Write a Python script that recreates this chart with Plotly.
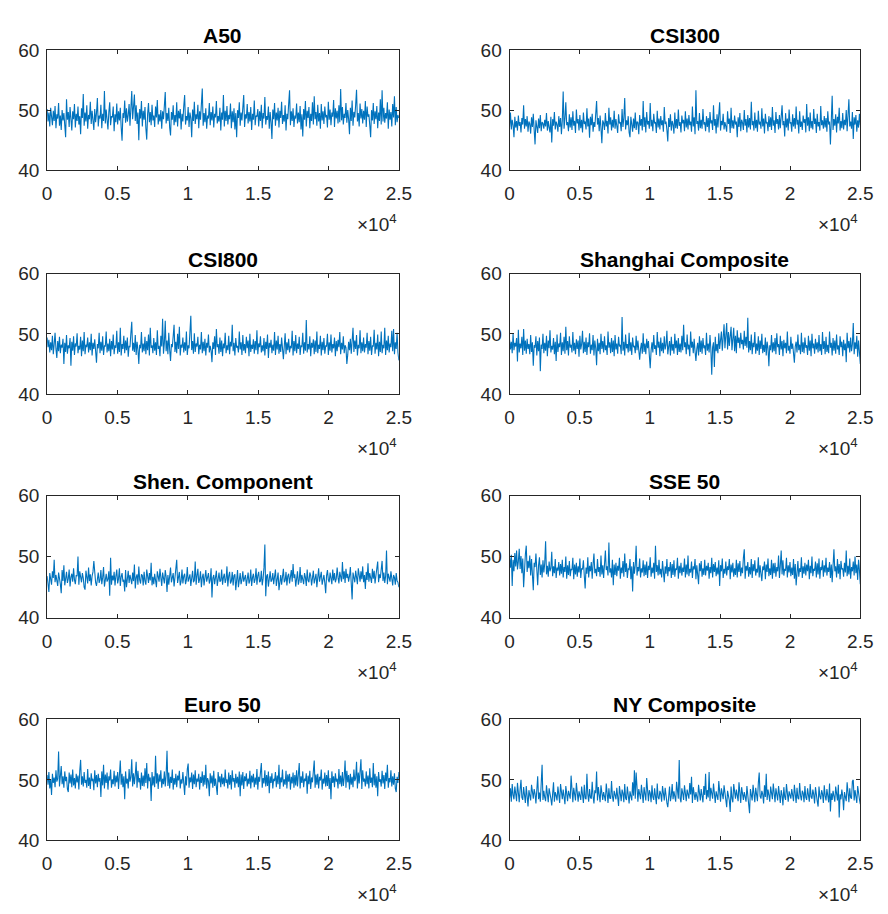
import numpy as np
import plotly.graph_objects as go

titles = ["A50", "CSI300", "CSI800", "Shanghai Composite",
          "Shen. Component", "SSE 50", "Euro 50", "NY Composite"]

a50 = [50.2, 48.1, 49.6, 47.3, 50.4, 48.8, 47.5, 49.9, 48.2, 50.7, 47.0, 49.3, 48.6, 51.2, 47.4, 49.1, 46.7, 50.0, 48.3, 49.5,
       47.8, 45.5, 51.8, 48.4, 49.7, 47.2, 50.5, 48.0, 46.6, 49.8, 48.5, 51.0, 47.1, 49.4, 48.2, 50.6, 47.6, 49.0, 46.0, 50.3,
       48.7, 52.7, 47.4, 49.6, 48.1, 50.8, 46.9, 49.2, 48.5, 51.4, 47.7, 49.9, 48.3, 46.7, 50.2, 48.0, 49.5, 52.0, 47.3, 49.1,
       48.6, 50.9, 47.0, 49.4, 48.2, 53.2, 47.8, 50.1, 48.4, 46.8, 49.7, 51.3, 47.5, 49.0, 48.8, 50.6, 46.5, 49.3, 48.0, 51.1,
       47.6, 49.8, 48.3, 50.4, 47.1, 44.9, 49.5, 48.7, 51.6, 47.9, 50.3, 48.1, 49.2, 51.0, 47.4, 50.7, 53.2, 48.5, 50.0, 52.6,
       48.2, 50.8, 47.7, 49.6, 45.0, 50.2, 48.6, 51.5, 47.3, 49.9, 48.4, 50.5, 47.0, 45.1, 49.4, 51.2, 48.0, 49.7, 47.5, 50.9,
       48.3, 49.1, 47.2, 50.6, 48.8, 51.7, 47.6, 49.3, 48.1, 50.0, 46.9, 49.8, 48.5, 51.1, 53.0, 47.8, 49.5, 48.2, 50.4, 47.1,
       45.8, 49.7, 48.4, 50.8, 47.5, 49.2, 48.0, 51.3, 47.3, 49.9, 48.6, 50.2, 46.8, 49.4, 48.1, 50.7, 52.5, 47.6, 49.0, 48.3,
       50.5, 47.2, 49.6, 48.7, 45.5, 50.1, 48.2, 51.4, 47.7, 49.3, 48.5, 50.9, 47.0, 49.8, 48.4, 51.0, 53.6, 47.4, 49.5, 48.0,
       50.3, 46.9, 49.1, 48.6, 51.2, 47.5, 49.7, 48.3, 50.6, 47.1, 49.4, 48.8, 51.5, 47.8, 49.0, 48.1, 50.4, 46.6, 49.6, 48.4,
       52.5, 47.3, 49.9, 48.2, 50.7, 47.6, 49.2, 48.5, 51.1, 47.0, 49.8, 48.0, 50.3, 46.8, 49.5, 45.5, 50.0, 48.7, 51.3, 47.4,
       49.6, 48.3, 50.8, 52.5, 47.2, 49.3, 48.6, 51.0, 47.8, 49.7, 48.1, 50.5, 46.7, 49.4, 48.4, 51.6, 47.5, 49.1, 48.9, 50.2,
       47.3, 49.8, 48.2, 50.9, 47.0, 49.5, 48.6, 52.2, 47.6, 49.0, 48.4, 50.6, 46.9, 49.7, 48.0, 45.2, 50.1, 48.5, 51.2, 47.4,
       49.6, 48.3, 50.4, 47.1, 49.9, 48.7, 51.4, 47.7, 49.2, 48.1, 50.8, 46.6, 49.4, 48.5, 51.0, 53.3, 47.5, 49.8, 48.2, 50.3,
       47.2, 49.1, 48.6, 51.1, 47.8, 49.6, 48.0, 50.7, 46.8, 49.3, 45.6, 50.2, 48.4, 51.5, 47.3, 49.9, 48.7, 50.5, 47.0, 49.4,
       48.2, 51.3, 47.6, 52.3, 48.5, 49.7, 47.4, 50.9, 48.1, 49.5, 46.9, 51.0, 48.3, 49.8, 47.7, 50.6, 48.8, 49.2, 47.1, 51.4,
       48.4, 50.1, 47.5, 49.6, 48.9, 51.7, 47.2, 50.3, 48.6, 49.9, 47.8, 50.8, 48.0, 53.5, 48.3, 50.5, 47.6, 49.4, 48.7, 51.2,
       47.9, 50.0, 48.5, 46.0, 50.4, 48.2, 51.6, 47.4, 49.7, 48.8, 50.9, 53.4, 48.1, 49.5, 47.3, 51.1, 48.6, 50.2, 47.8, 49.9,
       48.4, 51.5, 47.2, 50.6, 48.9, 49.3, 47.5, 45.5, 50.0, 48.3, 51.2, 47.7, 49.8, 48.5, 50.7, 47.0, 49.6, 48.2, 51.8, 47.6,
       53.3, 48.1, 50.4, 47.9, 49.5, 48.6, 51.3, 46.9, 50.1, 48.4, 49.7, 47.3, 51.0, 48.8, 52.3, 47.5, 50.5, 48.0, 49.2, 48.7]

csi300 = [47.2, 49.6, 46.8, 48.4, 47.5, 45.5, 48.9, 47.1, 48.2, 46.6, 49.1, 47.4, 48.0, 46.3, 48.7, 47.6, 50.8, 46.9, 48.5, 47.3,
          49.0, 46.4, 48.1, 47.7, 46.1, 48.8, 47.2, 49.4, 46.7, 44.3, 48.3, 47.5, 46.2, 48.6, 47.0, 49.2, 46.5, 48.0, 47.8, 46.9,
          48.4, 47.3, 49.5, 46.6, 48.2, 47.1, 46.3, 48.9, 44.6, 48.5, 47.4, 49.7, 46.8, 48.1, 47.6, 46.4, 49.0, 47.2, 48.7, 46.0,
          48.3, 53.1, 46.9, 48.6, 51.3, 47.5, 48.0, 46.5, 49.3, 47.1, 48.8, 46.7, 49.8, 47.4, 48.2, 46.2, 50.1, 47.8, 48.5, 46.6,
          49.2, 47.0, 48.4, 46.3, 49.6, 47.7, 48.1, 46.8, 50.3, 47.3, 48.6, 45.4, 48.9, 47.5, 49.4, 46.4, 48.0, 47.2, 50.0, 51.5,
          47.6, 48.7, 46.5, 49.1, 47.0, 44.5, 48.3, 47.9, 46.7, 49.5, 47.3, 48.2, 46.1, 50.4, 47.6, 48.8, 46.6, 48.4, 47.1, 49.9,
          46.9, 48.5, 47.4, 46.2, 49.3, 47.8, 48.0, 46.5, 50.2, 47.2, 48.7, 52.0, 46.8, 48.3, 47.5, 49.0, 46.3, 45.5, 48.9, 47.7,
          46.4, 48.6, 47.0, 49.6, 46.7, 48.1, 47.9, 46.0, 49.2, 47.4, 48.5, 46.6, 51.5, 47.2, 48.8, 46.3, 49.7, 47.6, 48.2, 46.9,
          51.2, 47.3, 48.4, 46.5, 49.4, 47.8, 48.0, 46.2, 49.9, 47.1, 48.6, 46.8, 49.0, 47.5, 48.3, 46.4, 50.5, 47.7, 48.1, 46.7,
          44.8, 48.7, 47.2, 49.3, 46.6, 48.2, 47.6, 46.1, 49.6, 47.0, 48.5, 46.9, 50.1, 47.4, 48.0, 46.3, 49.1, 47.8, 48.4, 46.5,
          49.8, 47.1, 48.6, 46.8, 49.2, 47.5, 48.1, 46.4, 50.6, 47.3, 48.8, 46.0, 53.3, 47.7, 48.2, 46.6, 49.5, 47.0, 48.4, 46.9,
          50.2, 47.6, 48.0, 46.5, 49.0, 47.2, 48.7, 46.3, 49.7, 47.8, 48.3, 46.7, 50.8, 47.4, 48.5, 46.1, 49.3, 47.1, 48.9, 51.3,
          46.6, 48.2, 47.5, 49.4, 46.8, 48.0, 47.3, 46.4, 49.8, 47.7, 48.6, 46.2, 50.4, 47.0, 48.3, 46.9, 49.1, 47.6, 48.1, 45.5,
          48.8, 47.2, 49.5, 46.5, 48.4, 47.9, 46.7, 50.0, 47.4, 48.5, 46.3, 49.2, 47.1, 48.7, 46.8, 51.4, 47.5, 48.2, 46.6, 49.6,
          47.0, 48.4, 46.4, 49.9, 47.6, 48.1, 46.9, 50.3, 47.3, 48.6, 46.1, 49.4, 47.8, 48.0, 46.5, 49.0, 47.2, 48.8, 46.7, 50.5,
          47.4, 48.3, 46.2, 49.7, 47.7, 48.5, 46.8, 49.2, 47.0, 48.9, 50.8, 47.5, 48.2, 45.6, 49.5, 47.1, 48.6, 46.6, 50.1, 47.8,
          48.0, 46.4, 49.3, 47.3, 48.7, 46.9, 50.6, 47.6, 48.4, 46.1, 49.8, 47.2, 48.1, 46.7, 49.1, 47.9, 48.5, 46.3, 51.0, 47.4,
          48.8, 46.5, 49.6, 47.0, 48.2, 46.8, 50.2, 47.7, 48.6, 46.2, 49.4, 47.3, 48.0, 46.6, 50.7, 47.5, 48.3, 46.9, 49.0, 47.1,
          48.7, 46.4, 49.8, 47.6, 48.1, 44.3, 47.2, 52.4, 46.7, 48.5, 47.4, 49.3, 46.3, 48.9, 47.8, 50.4, 46.6, 48.2, 47.0, 49.5,
          46.8, 48.4, 47.5, 50.0, 46.5, 48.6, 51.8, 47.3, 48.1, 46.9, 49.7, 45.2, 48.8, 47.6, 49.2, 46.4, 48.3, 47.1, 49.4, 47.5]

csi800 = [49.4, 47.8, 49.0, 46.9, 48.6, 47.3, 49.7, 46.6, 48.3, 50.2, 47.5, 46.0, 48.8, 47.1, 49.5, 46.8, 48.2, 47.7, 49.2, 45.0,
          48.5, 47.0, 49.8, 46.7, 48.1, 47.6, 49.3, 44.7, 48.7, 47.2, 49.6, 46.5, 48.4, 47.9, 50.1, 46.8, 48.0, 47.4, 49.5, 46.3,
          48.9, 47.1, 50.3, 46.6, 48.2, 47.8, 49.4, 46.9, 48.6, 47.3, 50.0, 46.4, 48.5, 47.5, 49.1, 46.7, 45.2, 48.3, 47.6, 50.2,
          46.8, 48.7, 47.2, 49.6, 46.5, 48.0, 47.9, 50.4, 46.9, 48.4, 47.1, 49.2, 46.3, 48.8, 47.4, 49.9, 46.6, 48.1, 47.7, 50.5,
          46.7, 48.6, 47.0, 51.0, 46.4, 48.3, 47.5, 49.7, 46.8, 48.9, 47.3, 49.4, 46.2, 48.0, 47.8, 50.1, 52.0, 47.2, 48.5, 47.0,
          49.8, 46.5, 48.7, 47.4, 45.0, 48.2, 47.6, 50.3, 46.9, 48.4, 47.1, 49.5, 46.6, 48.8, 47.3, 49.9, 46.4, 51.0, 47.7, 48.1,
          46.8, 49.3, 47.2, 48.6, 46.5, 50.6, 47.5, 48.0, 46.3, 49.7, 47.9, 52.5, 46.7, 48.5, 52.2, 47.1, 48.9, 46.6, 50.2, 47.4,
          45.5, 48.3, 47.8, 49.6, 51.5, 47.0, 48.7, 46.8, 50.0, 47.5, 51.2, 46.4, 48.2, 47.7, 49.4, 46.9, 48.6, 47.2, 50.4, 46.5,
          48.1, 47.6, 49.8, 53.0, 47.3, 48.8, 46.7, 50.1, 47.0, 48.4, 47.9, 49.5, 46.6, 48.2, 47.4, 50.3, 46.8, 48.7, 47.1, 49.2,
          46.4, 48.5, 47.7, 49.9, 46.9, 48.0, 47.2, 45.3, 48.6, 47.5, 49.6, 46.5, 50.8, 47.8, 48.3, 46.7, 49.4, 47.0, 48.9, 46.3,
          48.4, 47.6, 50.2, 46.8, 48.1, 47.3, 49.7, 46.6, 48.7, 47.9, 51.5, 47.1, 48.5, 46.4, 49.3, 47.7, 48.0, 46.9, 50.4, 47.4,
          48.6, 46.5, 49.8, 47.2, 48.3, 46.8, 49.5, 47.6, 48.9, 46.3, 50.0, 47.0, 48.2, 47.5, 49.1, 46.7, 48.8, 47.3, 50.6, 46.6,
          48.4, 47.8, 49.6, 46.9, 48.1, 47.1, 49.3, 46.4, 48.7, 47.5, 49.9, 46.0, 48.5, 47.7, 49.0, 46.8, 48.2, 47.2, 50.3, 46.5,
          48.9, 47.4, 49.7, 46.7, 48.3, 47.0, 49.4, 46.3, 45.8, 47.9, 50.1, 46.6, 48.6, 47.3, 49.2, 46.9, 48.0, 47.6, 50.5, 46.4,
          48.8, 47.1, 49.8, 46.8, 48.4, 47.5, 49.5, 46.5, 48.1, 47.8, 50.2, 46.7, 48.6, 47.2, 52.3, 46.9, 48.3, 47.4, 49.6, 46.3,
          48.5, 47.7, 49.1, 46.6, 48.9, 47.0, 50.4, 46.8, 48.2, 47.5, 49.7, 46.4, 48.7, 47.3, 49.3, 46.7, 48.0, 47.9, 50.0, 46.5,
          48.6, 47.2, 49.9, 46.9, 48.3, 47.6, 49.4, 46.3, 48.8, 47.1, 49.0, 47.8, 50.3, 46.6, 48.5, 47.4, 49.6, 46.8, 48.1, 47.7,
          45.0, 46.5, 48.7, 47.3, 49.2, 46.7, 48.4, 51.0, 47.0, 48.9, 47.5, 49.8, 46.4, 48.2, 47.6, 50.6, 46.8, 48.6, 47.1, 49.4,
          46.9, 48.3, 47.7, 50.2, 46.6, 48.8, 47.2, 49.5, 46.5, 48.0, 47.9, 50.7, 46.7, 48.5, 47.4, 49.9, 46.3, 48.7, 47.0, 50.4,
          46.8, 48.2, 47.6, 51.0, 46.5, 48.9, 47.3, 49.7, 46.9, 48.4, 47.8, 50.5, 47.1, 50.8, 46.6, 48.6, 47.5, 50.2, 46.9, 45.6]

shanghai = [49.0, 47.4, 48.7, 46.8, 50.1, 47.3, 48.5, 47.9, 49.3, 45.4, 50.7, 46.9, 48.4, 47.6, 49.5, 46.5, 50.8, 47.2, 48.9, 46.7,
            49.2, 47.5, 48.3, 46.6, 49.8, 47.0, 48.6, 44.7, 48.1, 47.7, 49.6, 46.4, 48.8, 47.1, 49.4, 43.8, 48.2, 47.5, 50.0, 46.8,
            48.5, 47.2, 49.7, 46.3, 48.9, 47.6, 50.6, 46.9, 48.0, 47.4, 49.3, 46.6, 48.7, 45.5, 49.9, 47.0, 48.4, 47.8, 50.2, 46.5,
            48.6, 47.1, 49.5, 46.7, 51.2, 47.3, 48.8, 46.4, 49.6, 47.7, 48.2, 46.9, 50.3, 47.2, 48.5, 46.6, 49.1, 47.5, 48.9, 46.2,
            49.7, 47.4, 48.3, 50.5, 46.8, 48.7, 47.0, 49.4, 46.5, 48.6, 47.8, 50.1, 46.7, 48.2, 47.3, 49.8, 46.4, 48.9, 47.6, 44.8,
            49.2, 47.1, 48.5, 46.6, 50.0, 47.5, 48.8, 46.9, 49.6, 47.3, 48.1, 46.5, 50.4, 47.7, 48.6, 46.8, 49.3, 47.0, 48.9, 46.3,
            49.8, 47.4, 48.4, 46.7, 49.5, 47.9, 48.2, 46.6, 52.8, 47.2, 48.7, 46.4, 49.9, 47.6, 48.3, 46.9, 50.2, 47.1, 48.6, 46.5,
            49.4, 47.8, 48.0, 46.8, 49.7, 47.3, 48.9, 46.2, 45.7, 47.5, 48.5, 46.7, 50.1, 47.0, 48.4, 46.6, 49.2, 47.6, 48.8, 46.4,
            44.3, 47.2, 48.6, 46.9, 49.8, 47.5, 48.1, 46.5, 50.3, 47.7, 48.7, 46.3, 49.4, 47.1, 48.5, 46.8, 49.6, 47.4, 48.2, 50.5,
            46.6, 47.9, 48.8, 46.4, 49.5, 47.2, 48.3, 46.7, 50.0, 47.6, 48.9, 46.5, 49.3, 47.0, 48.4, 46.9, 49.7, 47.3, 51.5, 47.8,
            48.6, 46.6, 49.9, 47.4, 48.2, 46.3, 50.4, 47.7, 48.7, 46.8, 49.2, 47.1, 45.5, 47.5, 48.5, 46.4, 49.6, 47.0, 48.9, 46.7,
            49.3, 47.6, 48.1, 46.5, 50.2, 47.2, 48.4, 46.9, 49.8, 47.4, 43.2, 47.8, 48.6, 44.5, 49.5, 47.1, 48.3, 46.8, 50.1, 47.5,
            48.8, 50.4, 47.2, 49.9, 51.6, 47.6, 50.7, 51.8, 47.4, 50.3, 48.0, 49.8, 51.2, 47.3, 50.5, 51.0, 47.1, 49.7, 46.8, 50.6,
            48.5, 49.4, 47.6, 50.2, 48.3, 49.0, 47.4, 50.5, 48.0, 49.5, 47.7, 52.7, 46.9, 48.8, 47.3, 49.9, 46.6, 48.5, 47.8, 50.3,
            46.7, 48.4, 47.2, 49.6, 46.5, 48.9, 47.5, 50.0, 46.8, 48.2, 47.0, 49.4, 46.4, 48.7, 47.6, 44.6, 48.1, 47.3, 49.8, 46.9,
            48.6, 47.1, 49.3, 46.6, 50.1, 47.8, 48.3, 46.5, 49.7, 47.4, 48.8, 46.3, 49.0, 47.6, 48.5, 46.8, 50.4, 47.2, 48.0, 46.7,
            49.5, 47.5, 48.4, 46.4, 45.2, 47.9, 48.7, 46.9, 49.9, 47.3, 48.2, 46.6, 50.2, 47.0, 48.6, 46.8, 49.4, 47.7, 48.1, 46.5,
            49.7, 47.2, 48.9, 46.3, 50.0, 47.6, 48.4, 46.7, 49.2, 47.4, 48.6, 46.9, 49.8, 47.1, 48.3, 46.5, 50.3, 47.5, 48.8, 46.6,
            49.5, 47.0, 48.2, 46.8, 50.4, 47.7, 48.5, 46.4, 49.3, 47.2, 48.9, 46.7, 49.9, 47.4, 48.1, 46.5, 49.6, 47.8, 48.7, 46.3,
            49.0, 47.3, 48.4, 45.3, 50.2, 47.6, 48.8, 46.9, 49.4, 47.1, 48.3, 51.8, 46.6, 48.6, 47.5, 49.7, 46.2, 48.9, 47.0, 45.0]

shen = [46.8, 45.6, 44.2, 47.3, 46.1, 45.4, 47.6, 46.5, 49.5, 45.8, 47.0, 46.3, 45.2, 47.4, 46.7, 45.5, 44.0, 47.8, 46.0, 48.6,
        45.3, 46.9, 47.5, 45.7, 46.4, 47.9, 45.1, 46.6, 47.2, 45.9, 48.1, 46.2, 45.5, 47.0, 46.8, 50.0, 45.4, 47.6, 46.1, 45.8,
        47.3, 46.5, 45.0, 44.6, 47.7, 46.3, 45.6, 48.2, 46.0, 47.1, 45.3, 46.8, 47.5, 49.3, 46.4, 45.8, 45.2, 46.9, 47.4, 45.7,
        46.2, 47.8, 45.5, 46.6, 48.3, 45.1, 46.7, 47.2, 45.9, 46.3, 47.6, 43.6, 49.8, 45.4, 46.9, 46.1, 47.5, 45.3, 46.8, 47.9,
        45.6, 46.4, 48.1, 45.2, 46.7, 47.3, 45.9, 46.2, 44.3, 47.8, 45.0, 46.5, 47.7, 45.7, 47.0, 46.3, 45.5, 47.4, 46.0, 48.7,
        44.8, 46.6, 47.1, 45.4, 48.4, 46.2, 45.6, 47.1, 46.9, 45.3, 47.5, 46.0, 45.4, 47.9, 46.4, 45.7, 47.3, 46.1, 49.0, 45.3,
        46.7, 45.5, 47.2, 46.3, 45.0, 47.6, 46.8, 45.9, 48.0, 46.5, 45.2, 47.4, 46.1, 45.6, 47.8, 46.7, 44.2, 47.0, 45.4, 46.4,
        48.2, 45.8, 46.9, 47.3, 45.1, 46.3, 47.7, 49.5, 45.7, 46.6, 47.5, 45.3, 46.0, 47.9, 45.6, 46.8, 47.2, 45.5, 46.2, 48.3,
        45.9, 46.5, 47.1, 45.2, 46.7, 47.7, 45.8, 46.1, 49.2, 45.4, 46.9, 48.0, 45.7, 46.3, 47.6, 45.0, 46.6, 47.2, 45.3, 46.4,
        47.8, 45.9, 46.8, 47.3, 45.6, 46.2, 48.1, 43.3, 46.5, 47.0, 45.5, 46.4, 47.7, 45.2, 46.7, 47.4, 45.9, 46.1, 47.9, 45.4,
        46.6, 47.2, 45.7, 46.3, 48.4, 45.1, 46.8, 47.5, 45.6, 46.0, 47.5, 45.3, 46.9, 47.1, 44.5, 46.4, 47.8, 45.0, 46.7, 47.3,
        45.5, 46.2, 47.6, 45.9, 46.5, 47.0, 45.2, 46.8, 47.4, 45.6, 46.1, 47.9, 45.2, 46.6, 47.2, 45.7, 46.3, 48.1, 45.4, 46.9,
        47.5, 45.8, 46.0, 47.7, 45.3, 46.4, 48.2, 52.0, 43.5, 46.8, 47.1, 45.1, 46.5, 47.6, 45.9, 46.2, 47.3, 45.5, 46.7, 47.9,
        45.2, 46.9, 47.4, 44.5, 46.3, 47.0, 45.4, 46.6, 48.0, 45.8, 46.1, 47.5, 45.3, 46.8, 47.2, 45.6, 46.4, 47.8, 45.9, 48.8,
        46.5, 47.1, 45.1, 46.7, 47.6, 45.4, 46.2, 48.3, 45.7, 47.0, 46.0, 45.5, 47.3, 46.6, 45.2, 47.9, 46.1, 45.8, 47.4, 46.9,
        45.3, 46.4, 47.7, 45.6, 46.8, 47.2, 45.0, 46.3, 48.1, 45.9, 46.5, 47.5, 45.4, 46.7, 47.0, 45.7, 44.0, 46.9, 47.8, 46.2,
        45.8, 47.4, 46.6, 45.5, 47.9, 46.1, 47.3, 45.8, 46.4, 48.2, 46.6, 45.6, 47.5, 46.9, 45.9, 49.1, 46.3, 47.6, 45.7, 48.0,
        46.5, 47.2, 45.9, 46.8, 48.3, 45.6, 43.0, 47.4, 46.2, 45.8, 47.7, 46.4, 45.5, 48.1, 46.7, 45.9, 47.6, 46.3, 48.4, 45.8,
        47.0, 44.7, 47.5, 46.2, 48.9, 45.9, 47.3, 46.6, 45.7, 48.0, 46.4, 47.7, 45.6, 46.9, 48.2, 49.2, 45.8, 47.1, 46.5, 47.8,
        49.3, 46.0, 47.4, 45.7, 46.8, 51.0, 45.5, 47.2, 46.3, 45.9, 47.6, 46.1, 45.3, 47.0, 46.6, 45.4, 47.3, 46.0, 45.8, 45.0]

sse50 = [49.8, 48.2, 50.3, 45.2, 49.5, 47.6, 50.6, 48.4, 51.0, 47.9, 49.2, 51.3, 48.0, 50.1, 47.3, 49.7, 45.0, 48.8, 50.4, 51.8,
         47.5, 49.3, 48.1, 50.2, 46.9, 49.6, 47.8, 44.5, 49.0, 48.3, 50.5, 47.2, 45.3, 48.6, 49.9, 47.0, 48.7, 46.6, 49.4, 47.4,
         48.9, 52.5, 47.1, 48.5, 46.7, 49.2, 47.6, 48.1, 50.8, 46.8, 48.4, 47.3, 49.6, 46.5, 48.2, 47.7, 49.1, 46.9, 48.8, 47.2,
         49.5, 46.6, 48.3, 47.5, 50.0, 46.4, 48.6, 47.0, 49.3, 46.8, 48.0, 47.8, 49.8, 46.3, 48.7, 47.1, 49.0, 46.7, 48.4, 47.4,
         49.7, 46.5, 48.1, 47.9, 49.4, 46.9, 44.8, 48.2, 47.2, 49.9, 46.6, 48.5, 47.6, 49.1, 46.4, 48.8, 50.5, 47.3, 48.0, 46.8,
         49.6, 47.5, 48.3, 46.7, 50.2, 47.1, 48.6, 46.5, 49.2, 51.0, 47.8, 48.4, 46.9, 52.3, 47.4, 48.1, 46.6, 49.5, 45.3, 48.7,
         47.0, 49.0, 46.8, 48.5, 47.7, 49.8, 46.4, 48.2, 47.3, 49.3, 46.7, 50.5, 47.5, 48.9, 46.5, 48.0, 47.9, 49.6, 46.3, 48.4,
         44.3, 49.1, 47.2, 48.6, 51.8, 46.9, 48.3, 47.6, 49.7, 46.6, 48.1, 47.4, 49.4, 46.8, 48.7, 47.0, 49.2, 46.5, 48.5, 47.8,
         49.9, 46.7, 48.2, 47.3, 49.0, 46.4, 51.8, 47.5, 48.6, 46.9, 49.5, 47.1, 48.0, 46.6, 49.3, 47.7, 45.8, 48.4, 47.2, 49.6,
         46.8, 48.3, 47.6, 49.1, 46.5, 48.8, 47.0, 49.4, 46.7, 48.1, 47.8, 49.8, 46.4, 48.5, 47.3, 49.0, 46.9, 48.2, 47.5, 49.7,
         46.6, 48.7, 47.1, 50.2, 46.8, 48.0, 47.4, 49.2, 46.5, 48.4, 47.9, 49.6, 46.3, 48.6, 47.2, 45.5, 48.9, 47.6, 49.3, 46.7,
         48.1, 47.0, 49.5, 46.9, 48.5, 47.7, 49.0, 46.4, 48.3, 47.3, 49.8, 46.6, 48.8, 47.5, 49.1, 46.8, 48.2, 47.1, 49.4, 45.2,
         48.6, 47.6, 49.7, 46.5, 48.0, 47.2, 49.2, 46.9, 48.4, 47.8, 49.6, 46.3, 48.7, 47.4, 49.0, 46.7, 48.1, 47.0, 49.5, 46.6,
         48.9, 47.5, 49.3, 46.8, 48.2, 47.3, 49.8, 51.2, 46.4, 48.5, 47.7, 49.1, 46.7, 48.3, 47.1, 49.6, 46.5, 48.8, 47.6, 49.4,
         46.9, 48.0, 47.4, 49.9, 46.6, 48.6, 47.2, 46.0, 48.4, 47.8, 49.2, 46.3, 48.7, 47.5, 49.7, 46.8, 48.1, 47.0, 49.5, 46.4,
         48.9, 47.3, 49.0, 46.7, 48.3, 47.6, 50.2, 46.5, 48.5, 51.0, 47.1, 49.4, 46.9, 48.0, 47.7, 49.8, 46.6, 48.6, 47.4, 49.1,
         46.8, 48.2, 47.0, 49.6, 46.4, 48.8, 45.3, 47.9, 49.3, 46.7, 48.1, 47.5, 49.9, 46.5, 48.4, 47.2, 49.0, 46.9, 48.7, 47.6,
         49.5, 46.3, 48.5, 47.3, 50.0, 46.8, 48.0, 47.7, 49.2, 46.6, 48.9, 47.1, 49.7, 46.4, 48.3, 47.8, 49.4, 46.7, 48.6, 47.4,
         49.8, 46.9, 48.2, 47.5, 49.1, 46.5, 48.7, 45.8, 50.4, 51.2, 47.6, 48.4, 46.6, 49.6, 47.2, 48.8, 46.3, 49.3, 47.9, 48.1,
         46.7, 49.0, 47.4, 51.0, 46.8, 48.5, 47.1, 49.7, 46.4, 48.3, 47.6, 49.2, 46.9, 50.0, 47.3, 48.7, 46.2, 49.5, 47.8, 45.5]

euro50 = [50.8, 49.2, 51.3, 48.6, 50.1, 47.5, 51.0, 49.5, 50.4, 48.8, 51.6, 49.7, 50.2, 54.7, 48.9, 51.1, 52.3, 49.3, 50.6, 48.7,
          51.4, 49.8, 50.5, 48.5, 48.0, 51.2, 49.4, 50.9, 48.8, 51.7, 49.1, 50.3, 48.6, 51.0, 49.6, 50.7, 48.4, 51.5, 53.3, 49.2,
          50.6, 48.9, 51.3, 49.5, 50.0, 48.7, 51.8, 49.0, 50.4, 48.5, 51.1, 49.8, 50.2, 48.3, 51.6, 49.4, 50.8, 48.8, 51.0, 49.7,
          50.3, 47.2, 51.4, 49.1, 52.5, 48.6, 50.9, 49.5, 51.2, 48.4, 50.6, 49.9, 51.7, 48.7, 50.1, 49.3, 51.5, 48.9, 50.7, 49.6,
          51.3, 48.5, 50.4, 53.2, 49.2, 51.0, 48.8, 50.6, 46.8, 51.4, 49.4, 50.2, 48.6, 51.8, 49.7, 50.5, 53.4, 48.9, 51.1, 49.3,
          50.8, 53.0, 48.7, 51.5, 49.6, 50.3, 48.4, 51.2, 49.0, 50.7, 48.9, 51.9, 49.5, 52.8, 48.6, 51.0, 49.8, 50.4, 46.5, 51.3,
          49.1, 50.6, 48.8, 54.0, 49.4, 51.1, 48.5, 50.9, 49.7, 51.6, 48.7, 50.2, 49.3, 51.4, 48.9, 50.8, 54.8, 49.0, 51.2, 48.6,
          50.5, 49.5, 51.7, 48.4, 50.3, 49.2, 51.0, 48.8, 50.7, 49.9, 51.5, 48.6, 50.1, 49.4, 51.3, 48.9, 47.5, 50.6, 49.1, 51.8,
          52.7, 48.7, 50.4, 49.6, 51.2, 48.5, 50.9, 49.3, 51.6, 48.8, 50.2, 49.7, 51.0, 48.4, 50.5, 49.5, 51.4, 48.9, 50.8, 49.2,
          52.5, 48.6, 50.3, 49.8, 47.3, 51.1, 49.4, 50.7, 48.7, 51.5, 49.0, 50.2, 48.5, 47.5, 51.3, 49.6, 50.6, 48.8, 51.0, 49.3,
          50.4, 48.9, 51.7, 49.5, 50.1, 48.6, 51.2, 49.2, 50.8, 48.4, 51.6, 49.7, 50.3, 48.7, 51.0, 49.4, 50.5, 48.8, 51.4, 47.3,
          50.9, 49.1, 51.3, 48.5, 50.6, 49.8, 51.1, 48.9, 50.2, 49.3, 51.5, 48.6, 50.7, 49.6, 51.0, 48.8, 50.4, 49.2, 51.8, 48.4,
          50.5, 49.7, 51.2, 52.8, 48.7, 50.3, 49.4, 51.6, 48.9, 50.8, 49.0, 51.4, 47.8, 50.6, 49.5, 51.1, 48.6, 50.2, 49.8, 51.3,
          48.8, 50.7, 49.3, 52.5, 48.5, 50.4, 49.6, 51.7, 48.9, 50.1, 49.2, 51.5, 48.6, 50.9, 49.7, 51.0, 48.4, 50.5, 49.4, 51.2,
          48.7, 50.8, 49.1, 51.6, 48.9, 50.3, 52.8, 48.6, 50.6, 49.5, 51.4, 48.8, 50.2, 49.8, 51.1, 47.7, 50.7, 49.3, 51.5, 48.5,
          50.4, 49.6, 51.3, 53.2, 48.7, 50.9, 49.2, 51.0, 48.6, 50.5, 49.9, 51.7, 48.4, 50.2, 49.4, 51.2, 48.9, 50.8, 49.0, 51.6,
          48.5, 50.3, 46.8, 51.4, 49.5, 50.6, 48.8, 51.1, 49.7, 50.2, 48.6, 51.8, 49.3, 50.7, 48.9, 51.3, 49.0, 50.4, 53.2, 48.7,
          51.5, 49.6, 50.8, 48.4, 51.0, 49.2, 50.5, 48.8, 51.7, 49.8, 50.3, 53.0, 48.6, 51.2, 49.4, 50.9, 53.4, 48.5, 51.6, 49.7,
          50.2, 48.9, 51.4, 49.3, 50.7, 48.6, 51.9, 49.5, 50.4, 48.8, 52.8, 49.1, 51.0, 48.7, 50.6, 47.3, 51.3, 49.7, 50.1, 48.9,
          51.5, 49.4, 50.8, 48.5, 51.2, 49.8, 52.5, 48.7, 50.3, 49.6, 51.6, 48.9, 50.6, 49.2, 51.1, 48.6, 48.0, 50.5, 49.5, 51.3]

nycomp = [47.0, 48.6, 46.4, 49.3, 47.5, 46.8, 48.9, 47.2, 46.5, 49.5, 47.8, 46.3, 48.4, 50.0, 47.1, 46.7, 48.8, 47.4, 46.2, 49.0,
          47.6, 45.6, 48.3, 47.0, 46.6, 49.2, 47.3, 46.9, 48.5, 47.7, 46.1, 48.7, 50.6, 46.8, 47.9, 46.4, 49.4, 52.5, 46.7, 48.2,
          47.1, 46.5, 49.1, 47.6, 46.3, 48.6, 47.2, 46.9, 45.8, 47.8, 49.6, 46.4, 48.0, 47.4, 46.6, 48.9, 47.0, 46.2, 49.3, 47.5,
          46.8, 48.4, 47.1, 46.0, 49.0, 47.7, 46.5, 48.2, 47.3, 46.9, 50.7, 47.4, 46.3, 48.7, 47.0, 46.6, 49.5, 47.8, 46.4, 48.1,
          47.2, 46.7, 48.9, 47.5, 46.2, 49.2, 47.0, 46.8, 51.0, 47.6, 46.4, 48.5, 47.1, 46.9, 49.7, 47.3, 46.1, 48.3, 47.8, 51.4,
          46.6, 48.8, 47.4, 46.3, 49.1, 47.7, 46.7, 48.0, 47.2, 46.5, 49.4, 47.5, 46.2, 48.6, 47.0, 46.9, 49.8, 47.3, 46.4, 48.2,
          47.6, 46.8, 48.7, 47.1, 45.7, 49.0, 47.4, 46.5, 48.4, 47.8, 46.3, 49.3, 47.0, 46.7, 48.9, 47.5, 46.1, 48.1, 47.2, 46.6,
          49.6, 47.4, 51.6, 46.9, 51.2, 47.7, 46.4, 48.5, 47.1, 46.8, 49.2, 47.6, 46.2, 48.8, 47.3, 46.6, 50.3, 47.0, 46.5, 48.3,
          47.8, 46.3, 49.1, 47.2, 46.7, 48.6, 47.5, 46.0, 49.4, 47.1, 46.8, 48.2, 47.7, 46.4, 49.0, 47.3, 46.6, 48.7, 47.0, 46.2,
          45.5, 47.6, 48.9, 46.5, 47.4, 49.3, 46.8, 48.1, 47.2, 46.4, 49.7, 47.5, 46.9, 53.3, 47.0, 46.3, 48.6, 47.8, 46.7, 49.1,
          47.3, 46.5, 48.4, 47.1, 46.9, 49.5, 47.6, 50.5, 46.2, 48.8, 47.4, 46.7, 48.0, 47.2, 46.4, 49.2, 47.7, 46.6, 48.5, 47.0,
          46.3, 49.0, 47.5, 51.0, 46.8, 48.3, 47.1, 51.3, 46.5, 48.7, 47.4, 46.9, 49.4, 47.6, 46.2, 48.1, 47.3, 46.7, 49.8, 47.0,
          46.4, 48.6, 47.2, 46.8, 49.1, 47.7, 46.1, 45.5, 48.2, 47.4, 46.6, 44.7, 48.9, 47.0, 46.3, 49.3, 47.5, 46.9, 48.4, 47.1,
          46.5, 49.6, 47.3, 46.2, 48.8, 47.8, 46.7, 48.0, 47.1, 46.4, 49.0, 47.6, 46.8, 44.5, 48.5, 47.2, 46.6, 49.2, 47.4, 46.3,
          48.7, 47.0, 46.5, 49.5, 51.2, 47.3, 46.9, 48.2, 47.6, 46.1, 49.1, 47.2, 51.0, 46.7, 48.4, 47.5, 46.4, 48.9, 47.1, 46.8,
          49.4, 47.4, 46.3, 48.6, 47.8, 46.6, 49.0, 47.0, 46.2, 48.3, 47.5, 45.8, 48.8, 47.2, 46.7, 49.3, 47.6, 46.4, 48.1, 47.1,
          46.9, 48.5, 47.3, 46.5, 49.2, 47.7, 46.2, 48.7, 47.0, 46.8, 49.5, 47.4, 46.6, 48.2, 47.8, 46.3, 49.0, 47.1, 46.7, 48.6,
          47.5, 46.4, 49.3, 47.2, 46.9, 48.4, 47.6, 46.1, 48.8, 47.0, 46.5, 45.6, 48.9, 47.3, 46.8, 48.3, 47.7, 46.2, 49.1, 47.4,
          46.6, 48.5, 47.1, 46.3, 49.4, 44.8, 47.8, 46.7, 48.2, 47.5, 46.4, 48.9, 47.0, 46.6, 49.2, 43.8, 47.6, 46.8, 48.4, 47.3,
          45.0, 48.0, 47.2, 46.5, 49.6, 47.7, 46.3, 48.6, 47.1, 46.9, 49.8, 50.0, 46.6, 48.3, 47.4, 46.2, 49.0, 47.5, 46.8, 46.0]

series = [a50, csi300, csi800, shanghai, shen, sse50, euro50, nycomp]

x_tickvals = [0, 5000, 10000, 15000, 20000, 25000]
x_ticktext = ["0", "0.5", "1", "1.5", "2", "2.5"]
y_tickvals = [40, 50, 60]
x_max = 25000

line_color = "#0072BD"
axis_color = "#262626"
font_family = "Liberation Sans, Arial, Helvetica, sans-serif"

W, H = 888, 914
col_px = [(43, 402), (515, 873)]
row_px = [(41, 164), (270, 393), (497, 622), (726, 850)]

fig = go.Figure()
annotations = []
for k, (name, vals) in enumerate(zip(titles, series)):
    r, c = divmod(k, 2)
    idx = k + 1
    xs = np.linspace(0, x_max, len(vals))
    xa = "x" if idx == 1 else f"x{idx}"
    ya = "y" if idx == 1 else f"y{idx}"
    fig.add_trace(go.Scatter(x=xs, y=vals, mode="lines",
                             line=dict(color=line_color, width=1.1),
                             xaxis=xa, yaxis=ya, showlegend=False,
                             hoverinfo="skip"))
    x0, x1 = col_px[c]
    y0, y1 = row_px[r]
    xd = [x0 / W, x1 / W]
    yd = [1 - y1 / H, 1 - y0 / H]
    axkw = dict(showline=True, linecolor=axis_color, linewidth=1, mirror="ticks",
                ticks="inside", ticklen=4, tickcolor=axis_color, tickwidth=1,
                showgrid=False, zeroline=False,
                tickfont=dict(family=font_family, size=19, color=axis_color))
    fig.layout[f"xaxis{idx}" if idx > 1 else "xaxis"] = dict(
        domain=xd, range=[0, x_max], tickvals=x_tickvals, ticktext=x_ticktext,
        anchor=ya, ticklabelstandoff=6, **axkw)
    fig.layout[f"yaxis{idx}" if idx > 1 else "yaxis"] = dict(
        domain=yd, range=[40, 60], tickvals=y_tickvals, anchor=xa,
        ticklabelstandoff=3, **axkw)
    annotations.append(dict(text=f"<b>{name}</b>", xref="paper", yref="paper",
                            x=(xd[0] + xd[1]) / 2, y=yd[1], xanchor="center",
                            yanchor="bottom", yshift=1, showarrow=False,
                            font=dict(family=font_family, size=21, color="black")))
    annotations.append(dict(text="\u00d710<sup>4</sup>", xref="paper", yref="paper",
                            x=xd[1], y=yd[0], xanchor="right", yanchor="middle",
                            yshift=-53, showarrow=False,
                            font=dict(family=font_family, size=19, color=axis_color)))

fig.update_layout(width=W, height=H, margin=dict(l=0, r=0, t=0, b=0),
                  plot_bgcolor="white", paper_bgcolor="white",
                  annotations=annotations)

fig.write_html("out.html")
